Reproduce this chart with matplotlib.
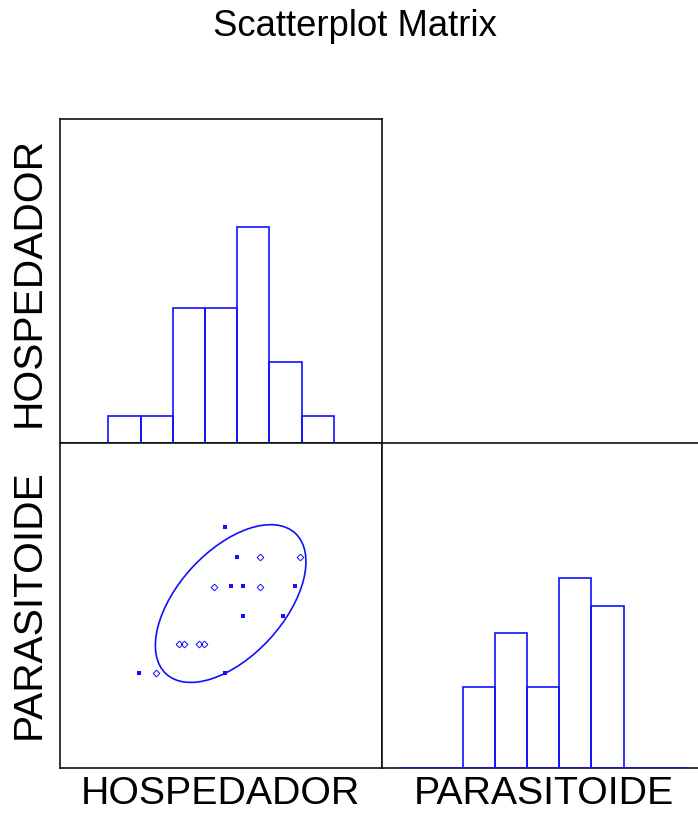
import numpy as np
import matplotlib.pyplot as plt
from matplotlib.patches import Ellipse

plt.rcParams['font.family'] = ['Liberation Sans', 'DejaVu Sans']

variables = ['HOSPEDADOR', 'PARASITOIDE']

# histogram counts, bins of width 1 centred on these values
hosp_bins = [2, 3, 4, 5, 6, 7, 8]
hosp_counts = [1, 1, 5, 5, 8, 3, 1]
paras_bins = [1, 2, 3, 4, 5, 6, 7, 8, 9]
paras_counts = [0, 0, 3, 5, 3, 7, 6, 0, 0]

# scatter points HOSPEDADOR (x) vs PARASITOIDE (y)
solid_x = [5.12, 5.50, 5.31, 5.68, 7.30, 5.68, 6.93, 2.45, 5.12]
solid_y = [7.42, 6.49, 5.60, 5.60, 5.60, 4.68, 4.68, 2.92, 2.92]
open_x = [6.21, 7.45, 4.78, 6.21, 3.70, 3.85, 4.32, 4.47, 2.98]
open_y = [6.49, 6.49, 5.57, 5.57, 3.82, 3.82, 3.82, 3.82, 2.92]

# confidence ellipse (centre, full axes, angle)
ell_center = (5.30, 5.06)
ell_width = 5.90
ell_height = 3.26
ell_angle = 47.0

W, H = 698, 814
fig = plt.figure(figsize=(W / 100, H / 100), dpi=100)


def px_box(x0, y0, x1, y1):
    return [x0 / W, 1 - y1 / H, (x1 - x0) / W, (y1 - y0) / H]


def clean(ax):
    ax.set_xticks([])
    ax.set_yticks([])
    for s in ax.spines.values():
        s.set_linewidth(1.2)
        s.set_color('#111111')


blue = '#1010ff'

# top-left: histogram HOSPEDADOR
ax_tl = fig.add_axes(px_box(60, 119, 382, 443))
ax_tl.bar(hosp_bins, hosp_counts, width=1, fill=False, edgecolor=blue, linewidth=1.2)
ax_tl.set_xlim(0, 10)
ax_tl.set_ylim(0, 12)
clean(ax_tl)

# bottom-left: scatter
ax_bl = fig.add_axes(px_box(60, 443, 382, 768))
ax_bl.plot(solid_x, solid_y, 's', color=blue, markersize=2.6, markeredgewidth=0)
ax_bl.plot(open_x, open_y, 'D', markerfacecolor='none', markeredgecolor=blue,
           markersize=3.4, markeredgewidth=0.7)
ax_bl.add_patch(Ellipse(ell_center, ell_width, ell_height, angle=ell_angle,
                        fill=False, edgecolor=blue, linewidth=1.2))
ax_bl.set_xlim(0, 10)
ax_bl.set_ylim(0, 10)
clean(ax_bl)

# bottom-right: histogram PARASITOIDE
ax_br = fig.add_axes(px_box(382, 443, 704, 768))
ax_br.bar(paras_bins, paras_counts, width=1, fill=False, edgecolor=blue, linewidth=1.2)
ax_br.set_xlim(0, 10)
ax_br.set_ylim(0, 12)
clean(ax_br)
ax_br.spines['bottom'].set_zorder(0)

fig.text(355 / W, 1 - 26 / H, 'Scatterplot Matrix', ha='center', va='center', fontsize=26.3)

fig.text(220 / W, 1 - 794 / H, variables[0], ha='center', va='center', fontsize=28.3)
fig.text(544 / W, 1 - 794 / H, variables[1], ha='center', va='center', fontsize=28.3)
fig.text(29 / W, 1 - 282 / H, variables[0], ha='center', va='center', fontsize=29.3, rotation=90)
fig.text(29 / W, 1 - 604 / H, variables[1], ha='center', va='center', fontsize=29.3, rotation=90)

fig.savefig('out.png', dpi=100)
